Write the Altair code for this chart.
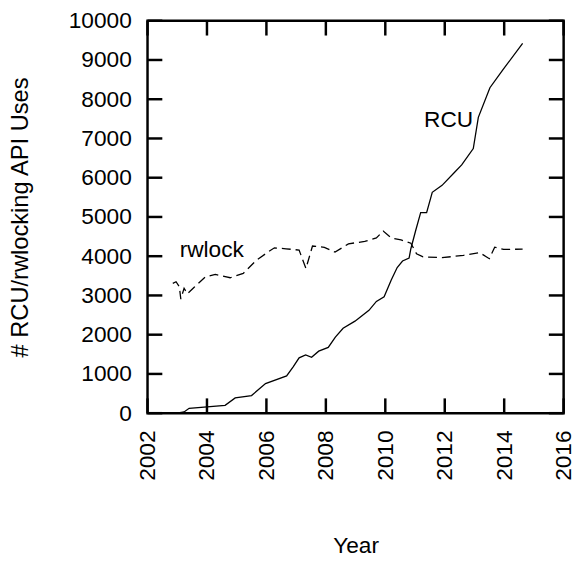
import altair as alt
import pandas as pd

# ---- data ----
rcu_year = [2002.99, 2003.23, 2003.40, 2004.61, 2004.95, 2005.50, 2005.97, 2006.68,
            2006.90, 2007.10, 2007.32, 2007.52, 2007.76, 2008.08, 2008.32, 2008.58,
            2008.98, 2009.45, 2009.70, 2009.96, 2010.20, 2010.40, 2010.58, 2010.80,
            2010.86, 2011.02, 2011.19, 2011.39, 2011.58, 2011.91, 2012.30, 2012.57,
            2012.96, 2013.13, 2013.52, 2013.96, 2014.62]
rcu_uses = [0, 30, 125, 200, 390, 450, 754, 950,
            1180, 1410, 1483, 1425, 1580, 1676, 1940, 2165,
            2345, 2621, 2847, 2965, 3392, 3711, 3877, 3950,
            4190, 4649, 5109, 5109, 5629, 5805, 6114, 6325,
            6742, 7539, 8293, 8753, 9424]

rw_year = [2002.85, 2002.96, 2003.07, 2003.12, 2003.23, 2003.34, 2003.57, 2003.95,
           2004.28, 2004.78, 2005.22, 2005.66, 2006.05, 2006.27, 2006.66, 2007.10,
           2007.33, 2007.55, 2007.95, 2008.31, 2008.76, 2009.31, 2009.70, 2009.93,
           2010.20, 2010.53, 2010.86, 2011.05, 2011.27, 2011.91, 2012.63, 2013.18,
           2013.50, 2013.68, 2013.98, 2014.62]
rw_uses = [3309, 3350, 3224, 2908, 3184, 3041, 3209, 3476,
           3536, 3451, 3561, 3895, 4104, 4214, 4189, 4155,
           3686, 4260, 4225, 4104, 4315, 4377, 4465, 4640,
           4465, 4415, 4330, 4063, 3985, 3962, 4021, 4090,
           3937, 4229, 4172, 4180]

label_text = ["RCU", "rwlock"]
label_year = [2012.13, 2004.16]
label_uses = [7476, 4146]

x_ticks = [2002, 2004, 2006, 2008, 2010, 2012, 2014, 2016]
y_ticks = [0, 1000, 2000, 3000, 4000, 5000, 6000, 7000, 8000, 9000, 10000]

W, H = 422, 398
TICK = 15
FONT = "Liberation Sans"
FS = 23

rcu = pd.DataFrame({"year": rcu_year, "uses": rcu_uses})
rw = pd.DataFrame({"year": rw_year, "uses": rw_uses})
labels = pd.DataFrame({"year": label_year, "uses": label_uses, "text": label_text})
xt = pd.DataFrame({"year": x_ticks})
yt = pd.DataFrame({"uses": y_ticks})

xscale = alt.Scale(domain=[2002, 2016], nice=False, zero=False)
yscale = alt.Scale(domain=[0, 10000], nice=False)

x_axis = alt.Axis(values=x_ticks, format="d", labelAngle=270, labelPadding=17,
                  ticks=False, domain=False, grid=False, title="Year",
                  titlePadding=55, labelFontSize=FS, titleFontSize=FS,
                  titleFontWeight="normal", labelFont=FONT, titleFont=FONT,
                  labelColor="black", titleColor="black", labelFlush=False,
                  labelOverlap=False)
y_axis = alt.Axis(values=y_ticks, format="d", labelPadding=16.5,
                  ticks=False, domain=False, grid=False,
                  title="# RCU/rwlocking API Uses", titlePadding=36,
                  labelFontSize=FS, titleFontSize=24, titleFontWeight="normal",
                  labelFont=FONT, titleFont=FONT, labelColor="black",
                  titleColor="black", labelFlush=False, labelOverlap=False)

X = alt.X("year:Q", scale=xscale, axis=x_axis)
Y = alt.Y("uses:Q", scale=yscale, axis=y_axis)

rcu_line = alt.Chart(rcu).mark_line(color="black", strokeWidth=1.3).encode(x=X, y=Y)
rw_line = alt.Chart(rw).mark_line(color="black", strokeWidth=1.3,
                                  strokeDash=[9, 5]).encode(x=X, y=Y)
text = alt.Chart(labels).mark_text(font=FONT, fontSize=FS, color="black",
                                   align="center", baseline="middle").encode(
    x=X, y=Y, text="text:N")

tick_style = dict(color="black", strokeWidth=2.5)
bottom_ticks = alt.Chart(xt).mark_rule(**tick_style).encode(
    x=X, y=alt.value(H), y2=alt.value(H - TICK))
top_ticks = alt.Chart(xt).mark_rule(**tick_style).encode(
    x=X, y=alt.value(0), y2=alt.value(TICK))
left_ticks = alt.Chart(yt).mark_rule(**tick_style).encode(
    y=Y, x=alt.value(0), x2=alt.value(TICK))
right_ticks = alt.Chart(yt).mark_rule(**tick_style).encode(
    y=Y, x=alt.value(W - TICK), x2=alt.value(W))

chart = alt.layer(
    rcu_line, rw_line, text, bottom_ticks, top_ticks, left_ticks, right_ticks
).properties(
    width=W, height=H,
    autosize=alt.AutoSizeParams(type="none"),
    padding={"left": 141.5, "top": 9, "right": 9.5, "bottom": 146},
    background="white",
).configure_view(stroke="black", strokeWidth=2.5)

chart.save("out.html", embed_options={"renderer": "svg", "actions": False})
